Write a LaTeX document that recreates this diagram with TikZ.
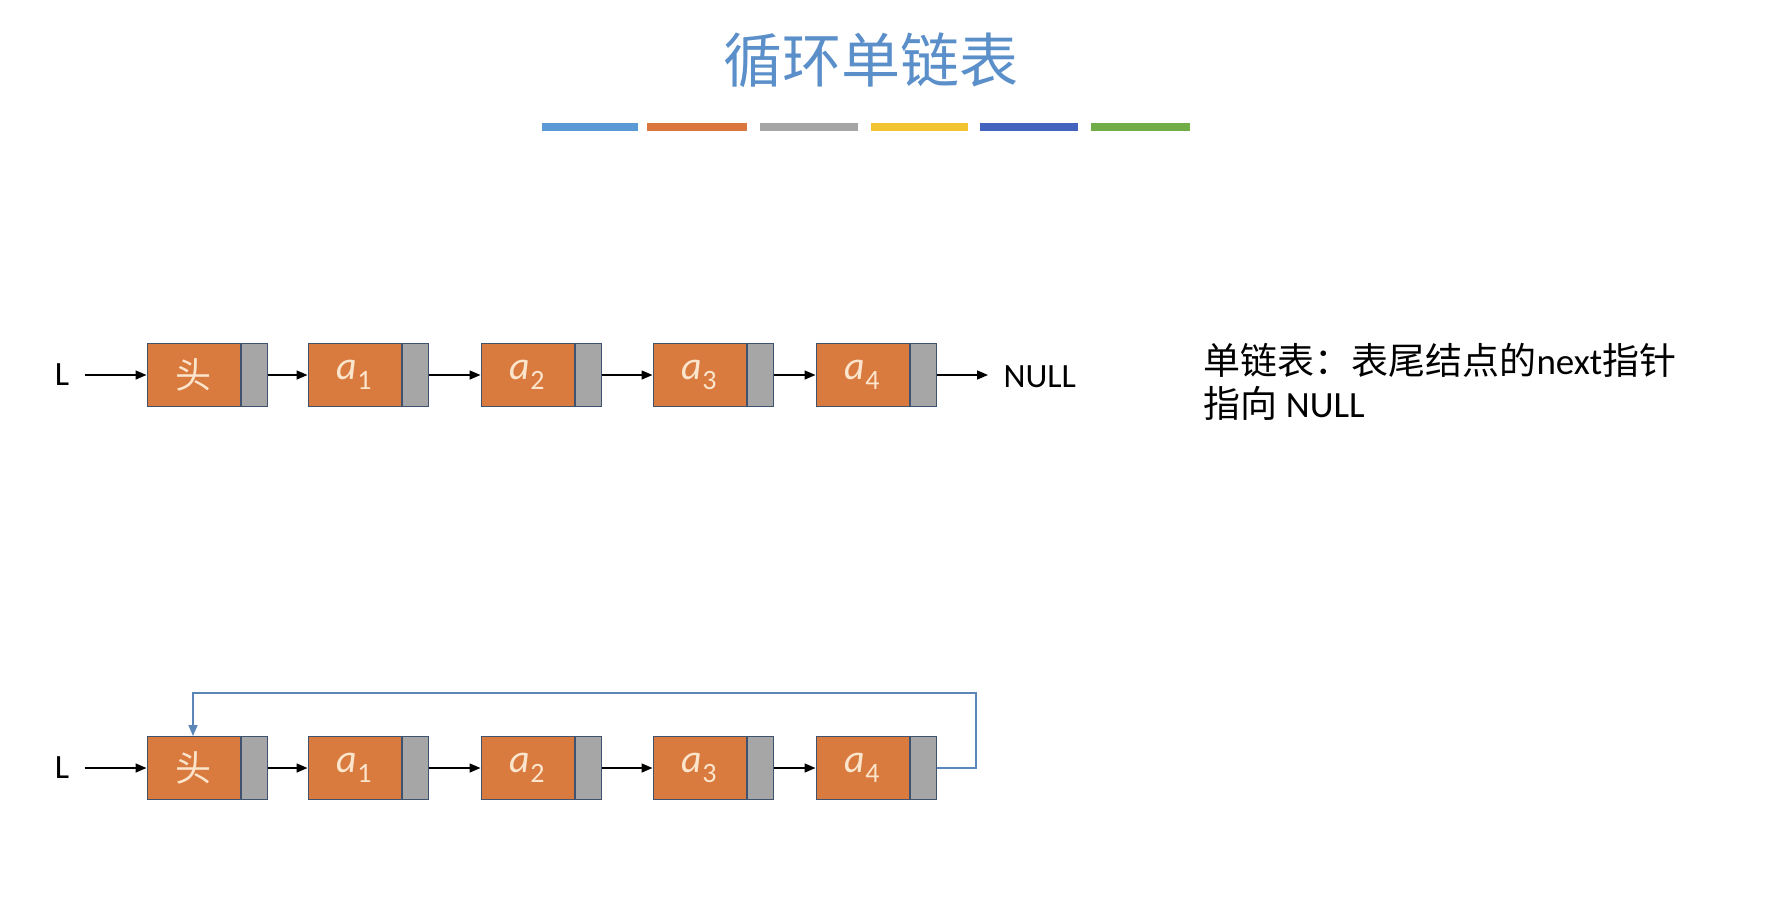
\documentclass[tikz,border=0pt]{standalone}
\usepackage{fontspec}
\setmainfont{Carlito}
\newfontfamily\cjk{Noto Sans CJK SC}
\usetikzlibrary{arrows.meta}
\definecolor{org}{HTML}{D97A3E}
\definecolor{gry}{HTML}{A6A6A6}
\definecolor{bd}{HTML}{3F5270}
\definecolor{ttl}{HTML}{5B8FC9}
\definecolor{cream}{HTML}{FBE5CC}
\definecolor{loopc}{HTML}{5A86B8}
\begin{document}
\begin{tikzpicture}[x=1pt,y=-1pt,
  dat/.style={draw=bd,line width=1pt,fill=org,minimum width=93pt,minimum height=63pt,inner sep=0pt,text=cream,font=\fontsize{40}{40}\selectfont},
  ptr/.style={draw=bd,line width=1pt,fill=gry,minimum width=26pt,minimum height=63pt,inner sep=0pt},
  arr/.style={line width=1.5pt,-{Triangle[length=11pt,width=9pt]}},
  lbl/.style={font=\fontsize{34}{34}\selectfont},
  bar/.style={line width=8pt}]
\useasboundingbox (0,0) rectangle (1769,903);
\node[font=\cjk\fontsize{59}{59}\selectfont,text=ttl] (title) at (871,60) {循环单链表};
\foreach \a/\b/\c [count=\i] in {542/638/5B9BD5,647/747/D9773F,760/858/A5A5A5,871/968/F2C431,980/1078/4463BE,1091/1190/70AD47}{
  \definecolor{bc}{HTML}{\c}
  \draw[bar,bc] (\a,127) -- (\b,127);
}
\foreach \r/\y in {1/375,2/768}{
  \node[lbl] (L\r) at (62,\y) {L};
  \node[dat] (h\r) at (193.5,\y) {\cjk\fontsize{36}{36}\selectfont 头};
  \node[ptr,anchor=west] (hp\r) at (h\r.east) {};
  \node[dat] (a1\r) at (354.5,\y) {\textit{a}\textsubscript{1}};
  \node[ptr,anchor=west] (a1p\r) at (a1\r.east) {};
  \node[dat] (a2\r) at (527.5,\y) {\textit{a}\textsubscript{2}};
  \node[ptr,anchor=west] (a2p\r) at (a2\r.east) {};
  \node[dat] (a3\r) at (699.5,\y) {\textit{a}\textsubscript{3}};
  \node[ptr,anchor=west] (a3p\r) at (a3\r.east) {};
  \node[dat] (a4\r) at (862.5,\y) {\textit{a}\textsubscript{4}};
  \node[ptr,anchor=west] (a4p\r) at (a4\r.east) {};
  \draw[arr] (L\r.east) ++(12,0) -- (h\r.west);
  \draw[arr] (hp\r.east) -- (a1\r.west);
  \draw[arr] (a1p\r.east) -- (a2\r.west);
  \draw[arr] (a2p\r.east) -- (a3\r.west);
  \draw[arr] (a3p\r.east) -- (a4\r.west);
}
\node[lbl,anchor=west] (null) at (1000,377) {NULL};
\coordinate (ne) at (988,375);
\draw[arr] (a4p1.east) -- (ne);
\coordinate (c1) at (976,768);
\coordinate (c2) at (976,693);
\coordinate (c3) at (193,693);
\draw[draw=loopc,line width=1.5pt,-{Triangle[length=11pt,width=9pt]}] (a4p2.east) -- (c1) -- (c2) -- (c3) -- (h2.north -| c3);
\node[anchor=west,align=left,font=\fontsize{37}{37}\selectfont] (note) at (1200,382) {{\cjk 单链表：表尾结点的}next{\cjk 指针}\\[6pt]{\cjk 指向} NULL};
\end{tikzpicture}
\end{document}
